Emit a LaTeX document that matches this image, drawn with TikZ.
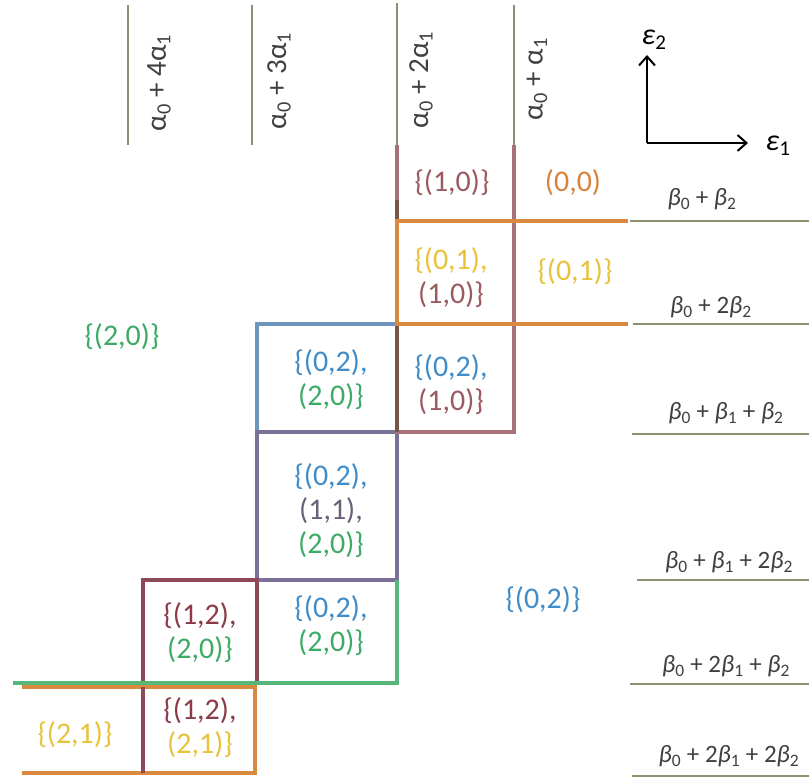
\documentclass[tikz,border=0pt]{standalone}
\usepackage{fontspec}
\setmainfont{Carlito}
\usetikzlibrary{arrows.meta}
\definecolor{cBrown}{HTML}{9B5A5F}
\definecolor{lBrown}{HTML}{A8707A}
\definecolor{cDark}{HTML}{765648}
\definecolor{cOrange}{HTML}{D9823B}
\definecolor{lOrange}{HTML}{D98A3E}
\definecolor{cGold}{HTML}{E8C23A}
\definecolor{cBlue}{HTML}{3F8CC8}
\definecolor{lBlue}{HTML}{6E94C0}
\definecolor{cGreen}{HTML}{3DAA65}
\definecolor{lGreen}{HTML}{55B87A}
\definecolor{cPurple}{HTML}{6A6078}
\definecolor{lPurple}{HTML}{7A7098}
\definecolor{cRed}{HTML}{8B3A48}
\definecolor{lRed}{HTML}{8C4A58}
\definecolor{cOlive}{HTML}{8E9070}
\definecolor{cText}{HTML}{404040}
\newcommand{\mysub}[1]{\textsubscript{#1}}
\newcommand{\ib}{{\itshape β}}
\tikzset{
  cell/.style={inner sep=0pt, align=center, font=\fontsize{30}{34}\selectfont},
  collabel/.style={inner sep=0pt, rotate=90, text=cText, font=\fontsize{29}{32}\selectfont},
  rowlabel/.style={inner sep=0pt, text=cText, font=\fontsize{25}{28}\selectfont},
  axlabel/.style={inner sep=0pt, font=\fontsize{30}{32}\selectfont\itshape},
  thin line/.style={cOlive, line width=1.5pt},
  grid line/.style={line width=4pt, line cap=butt, line join=miter},
  axis/.style={line width=2pt, -{Straight Barb[length=9pt,width=16pt,line width=2pt]}}
}
\begin{document}
\begin{tikzpicture}[x=1pt,y=-1pt]
\fill[white] (0,0) rectangle (809,778);
\useasboundingbox (0,0) rectangle (809,778);

% label lines at top
\coordinate (t1a) at (128,5);   \coordinate (t1b) at (128,145);
\coordinate (t2a) at (252,5);   \coordinate (t2b) at (252,145);
\coordinate (t3a) at (397,3);   \coordinate (t3b) at (397,145);
\coordinate (t4a) at (514,5);   \coordinate (t4b) at (514,145);
\draw[thin line] (t1a) -- (t1b);
\draw[thin line] (t2a) -- (t2b);
\draw[thin line] (t3a) -- (t3b);
\draw[thin line] (t4a) -- (t4b);

% row lines at right
\foreach \y/\x in {221/630, 324/633, 434/632, 580/637, 684/630, 776/632}{
  \draw[thin line] (\x,\y) -- (809,\y);
}

% coloured grid lines
\draw[grid line, lBlue] (397,324) -- (257,324) -- (257,432);
\draw[grid line, lPurple] (257,432) rectangle (397,580);
\draw[grid line, lBrown] (397,145) -- (397,432) -- (514,432) -- (514,145);
\draw[grid line, cDark] (397,200) -- (397,221);
\draw[grid line, cDark] (397,324) -- (397,432);
\draw[grid line, lOrange] (628,221) -- (397,221) -- (397,324) -- (628,324);
\draw[grid line, lRed] (257,685) -- (257,580) -- (143,580) -- (143,773);
\draw[grid line, lGreen] (397,580) -- (397,683) -- (13,683);
\draw[grid line, lOrange] (22,687) -- (255,687) -- (255,773) -- (22,773);
\draw[grid line, lRed] (143,687) -- (143,773);

% column labels
\node[collabel] (a4) at (159,83) {α\mysub{0} + 4α\mysub{1}};
\node[collabel] (a3) at (279,81) {α\mysub{0} + 3α\mysub{1}};
\node[collabel] (a2) at (421,80) {α\mysub{0} + 2α\mysub{1}};
\node[collabel] (a1) at (537,79) {α\mysub{0} + α\mysub{1}};

% row labels
\node[rowlabel] (b1) at (702,199) {\ib\mysub{0} + \ib\mysub{2}};
\node[rowlabel] (b2) at (711,307) {\ib\mysub{0} + 2\ib\mysub{2}};
\node[rowlabel] (b3) at (726,413) {\ib\mysub{0} + \ib\mysub{1} + \ib\mysub{2}};
\node[rowlabel] (b4) at (729,562) {\ib\mysub{0} + \ib\mysub{1} + 2\ib\mysub{2}};
\node[rowlabel] (b5) at (726,666) {\ib\mysub{0} + 2\ib\mysub{1} + \ib\mysub{2}};
\node[rowlabel] (b6) at (729,756) {\ib\mysub{0} + 2\ib\mysub{1} + 2\ib\mysub{2}};

% axes
\coordinate (o) at (647,143);
\coordinate (ey) at (647,55);
\coordinate (ex) at (748,143);
\draw[axis] (o) -- (ey);
\draw[axis] (o) -- (ex);
\node[axlabel] (e2) at (654,40) {ε\mysub{\upshape 2}};
\node[axlabel] (e1) at (778,146) {ε\mysub{\upshape 1}};

% cells
\node[cell, text=cBrown] (c10) at (452,183) {\{(1,0)\}};
\node[cell, text=cOrange] (c00) at (573,183) {(0,0)};
\node[cell] (c0110) at (451,278) {\textcolor{cGold}{\{(0,1),}\\\textcolor{cBrown}{(1,0)\}}};
\node[cell, text=cGold] (c01) at (575,272) {\{(0,1)\}};
\node[cell, text=cGreen] (c20) at (122,337) {\{(2,0)\}};
\node[cell] (c0220a) at (331,380) {\textcolor{cBlue}{\{(0,2),}\\\textcolor{cGreen}{(2,0)\}}};
\node[cell] (c0210) at (451,385) {\textcolor{cBlue}{\{(0,2),}\\\textcolor{cBrown}{(1,0)\}}};
\node[cell] (c021120) at (331,511) {\textcolor{cBlue}{\{(0,2),}\\\textcolor{cPurple}{(1,1),}\\\textcolor{cGreen}{(2,0)\}}};
\node[cell, text=cBlue] (c02) at (543,600) {\{(0,2)\}};
\node[cell] (c1220) at (200,633) {\textcolor{cRed}{\{(1,2),}\\\textcolor{cGreen}{(2,0)\}}};
\node[cell] (c0220b) at (331,626) {\textcolor{cBlue}{\{(0,2),}\\\textcolor{cGreen}{(2,0)\}}};
\node[cell, text=cGold] (c21) at (75,735) {\{(2,1)\}};
\node[cell] (c1221) at (200,728) {\textcolor{cRed}{\{(1,2),}\\\textcolor{cGold}{(2,1)\}}};
\end{tikzpicture}
\end{document}
